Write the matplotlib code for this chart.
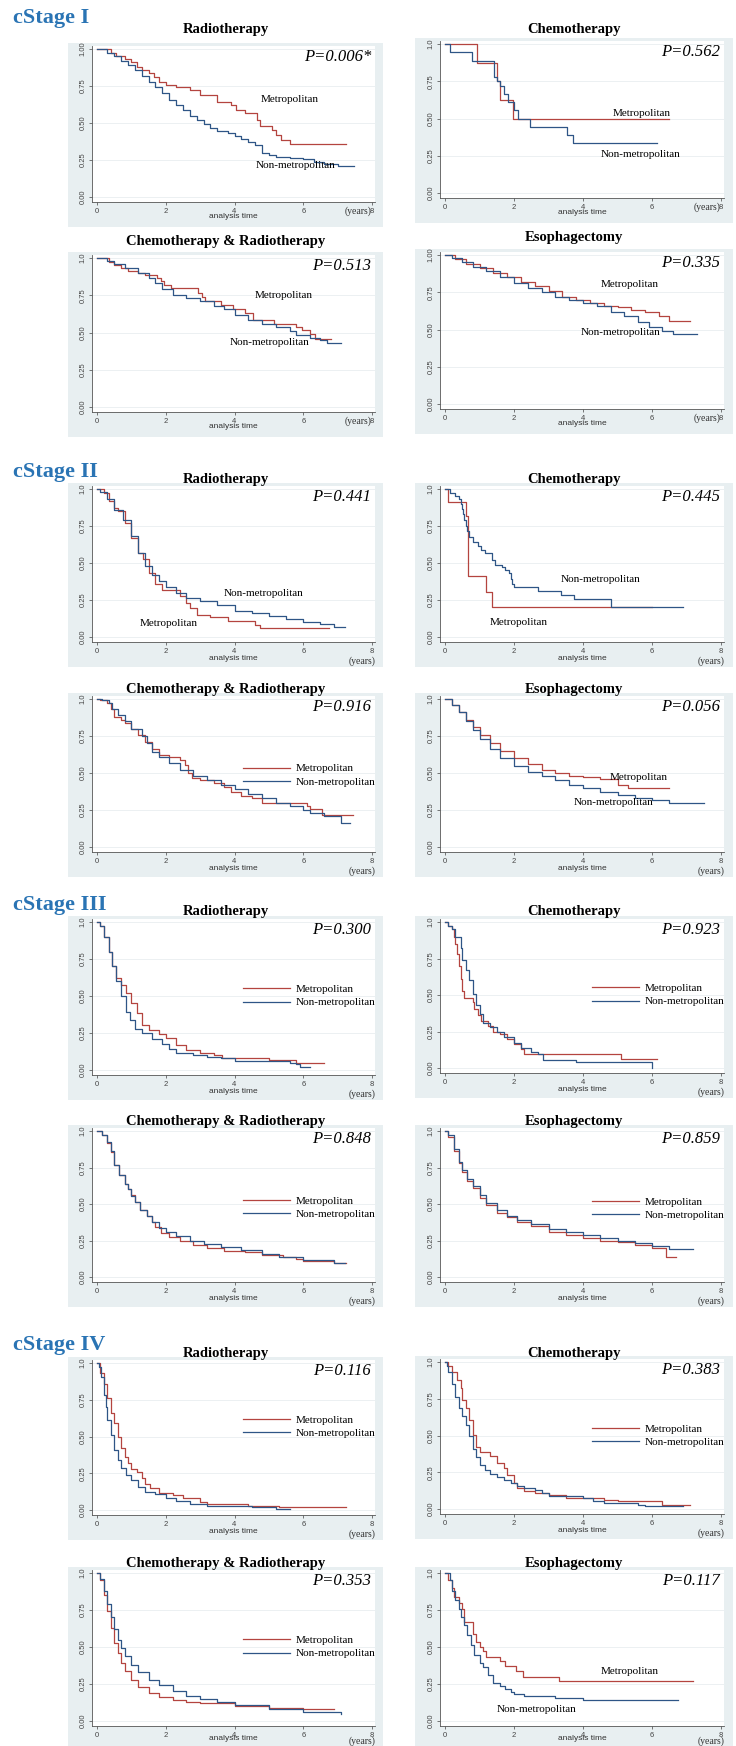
import matplotlib
matplotlib.use('Agg')
from matplotlib import pyplot as plt
from matplotlib.patches import Rectangle

# ---------------- data ----------------
stages = ['cStage I', 'cStage II', 'cStage III', 'cStage IV']
treatments = ['Radiotherapy', 'Chemotherapy', 'Chemotherapy & Radiotherapy', 'Esophagectomy']
p_values = ['P=0.006*', 'P=0.562', 'P=0.513', 'P=0.335',
            'P=0.441', 'P=0.445', 'P=0.916', 'P=0.056',
            'P=0.300', 'P=0.923', 'P=0.848', 'P=0.859',
            'P=0.116', 'P=0.383', 'P=0.353', 'P=0.117']
groups = ['Metropolitan', 'Non-metropolitan']
x_ticks = [0, 2, 4, 6, 8]
y_ticks = [0, 0.25, 0.5, 0.75, 1.0]

# cStage I
s1_rt_met_t = [0, 0.4, 0.55, 0.8, 1.0, 1.15, 1.3, 1.5, 1.65, 1.8, 2.0, 2.3, 2.7, 3.0, 3.5, 3.9, 4.05, 4.3, 4.65, 4.75, 5.1, 5.2, 5.35, 5.6, 7.25]
s1_rt_met_s = [1.0, 0.97, 0.95, 0.93, 0.91, 0.88, 0.86, 0.84, 0.81, 0.78, 0.76, 0.74, 0.72, 0.69, 0.645, 0.62, 0.59, 0.566, 0.52, 0.48, 0.45, 0.42, 0.385, 0.355, 0.355]
s1_rt_non_t = [0, 0.3, 0.5, 0.7, 0.9, 1.1, 1.3, 1.5, 1.7, 1.9, 2.1, 2.3, 2.5, 2.7, 2.9, 3.1, 3.3, 3.5, 3.8, 4.0, 4.2, 4.4, 4.6, 4.8, 5.0, 5.2, 5.6, 6.0, 6.3, 6.6, 7.0, 7.47]
s1_rt_non_s = [1.0, 0.97, 0.95, 0.92, 0.89, 0.86, 0.82, 0.78, 0.74, 0.70, 0.655, 0.62, 0.585, 0.55, 0.52, 0.49, 0.465, 0.445, 0.43, 0.415, 0.395, 0.37, 0.35, 0.30, 0.285, 0.27, 0.265, 0.255, 0.235, 0.22, 0.21, 0.21]

s1_ch_met_t = [0, 0.92, 1.5, 1.6, 1.98, 6.48]
s1_ch_met_s = [1.0, 0.875, 0.75, 0.625, 0.5, 0.5]
s1_ch_non_t = [0, 0.15, 0.77, 1.42, 1.5, 1.6, 1.72, 1.82, 2.0, 2.12, 2.45, 3.55, 3.7, 6.14]
s1_ch_non_s = [1.0, 0.944, 0.889, 0.778, 0.75, 0.72, 0.667, 0.611, 0.556, 0.5, 0.444, 0.389, 0.333, 0.333]

s1_cr_met_t = [0, 0.35, 0.5, 0.7, 0.9, 1.2, 1.4, 1.75, 1.85, 1.95, 2.15, 2.95, 3.05, 3.15, 3.6, 3.95, 4.3, 4.55, 5.15, 5.8, 5.95, 6.2, 6.35, 6.8]
s1_cr_met_s = [1.0, 0.97, 0.955, 0.93, 0.91, 0.90, 0.885, 0.865, 0.845, 0.82, 0.80, 0.765, 0.735, 0.71, 0.685, 0.655, 0.63, 0.585, 0.555, 0.535, 0.515, 0.49, 0.455, 0.455]
s1_cr_non_t = [0, 0.3, 0.5, 0.8, 1.2, 1.5, 1.7, 1.9, 2.2, 2.6, 3.0, 3.4, 3.7, 4.0, 4.4, 4.8, 5.2, 5.6, 5.8, 6.2, 6.5, 6.7, 7.1]
s1_cr_non_s = [1.0, 0.98, 0.96, 0.93, 0.90, 0.865, 0.83, 0.79, 0.755, 0.73, 0.71, 0.68, 0.655, 0.62, 0.585, 0.56, 0.54, 0.51, 0.485, 0.46, 0.45, 0.43, 0.43]

s1_es_met_t = [0, 0.3, 0.6, 1.0, 1.4, 1.8, 2.2, 2.6, 3.0, 3.4, 3.8, 4.2, 4.6, 5.0, 5.4, 5.8, 6.2, 6.5, 7.1]
s1_es_met_s = [1.0, 0.97, 0.94, 0.91, 0.88, 0.85, 0.82, 0.79, 0.76, 0.72, 0.70, 0.68, 0.66, 0.65, 0.63, 0.62, 0.59, 0.56, 0.56]
s1_es_non_t = [0, 0.2, 0.5, 0.8, 1.2, 1.6, 2.0, 2.4, 2.8, 3.2, 3.6, 4.0, 4.4, 4.8, 5.2, 5.6, 5.9, 6.3, 6.6, 7.3]
s1_es_non_s = [1.0, 0.98, 0.95, 0.92, 0.89, 0.85, 0.81, 0.78, 0.75, 0.72, 0.70, 0.68, 0.66, 0.62, 0.59, 0.55, 0.52, 0.49, 0.47, 0.47]

# cStage II
s2_rt_met_t = [0, 0.2, 0.35, 0.5, 0.6, 0.8, 1.0, 1.2, 1.35, 1.5, 1.7, 1.9, 2.4, 2.6, 2.7, 2.9, 3.3, 3.8, 4.6, 4.75, 6.75]
s2_rt_met_s = [1.0, 0.97, 0.92, 0.87, 0.85, 0.77, 0.67, 0.57, 0.53, 0.43, 0.355, 0.32, 0.275, 0.23, 0.195, 0.15, 0.135, 0.105, 0.08, 0.06, 0.06]
s2_rt_non_t = [0, 0.1, 0.3, 0.5, 0.75, 1.0, 1.2, 1.4, 1.6, 1.8, 2.0, 2.3, 2.6, 3.0, 3.5, 4.0, 4.5, 5.0, 5.5, 6.0, 6.5, 6.9, 7.2]
s2_rt_non_s = [1.0, 0.98, 0.93, 0.86, 0.79, 0.68, 0.57, 0.48, 0.42, 0.375, 0.34, 0.30, 0.265, 0.24, 0.215, 0.175, 0.16, 0.14, 0.12, 0.10, 0.085, 0.07, 0.07]

s2_ch_met_t = [0, 0.1, 0.6, 0.68, 1.2, 1.35, 6.0]
s2_ch_met_s = [1.0, 0.91, 0.82, 0.41, 0.305, 0.205, 0.205]
s2_ch_non_t = [0, 0.15, 0.3, 0.4, 0.45, 0.5, 0.53, 0.56, 0.6, 0.65, 0.7, 0.8, 0.95, 1.05, 1.15, 1.35, 1.45, 1.65, 1.75, 1.85, 1.9, 1.95, 2.0, 2.7, 3.35, 3.75, 4.8, 6.9]
s2_ch_non_s = [1.0, 0.97, 0.95, 0.93, 0.90, 0.865, 0.83, 0.79, 0.75, 0.715, 0.675, 0.64, 0.615, 0.59, 0.57, 0.52, 0.485, 0.47, 0.45, 0.43, 0.39, 0.36, 0.335, 0.31, 0.285, 0.26, 0.205, 0.205]

s2_cr_met_t = [0, 0.1, 0.3, 0.4, 0.5, 0.7, 0.8, 1.0, 1.2, 1.4, 1.6, 1.8, 2.1, 2.4, 2.55, 2.65, 2.75, 3.0, 3.4, 3.7, 3.9, 4.2, 4.5, 4.8, 6.1, 6.2, 6.55, 7.45]
s2_cr_met_s = [1.0, 0.99, 0.97, 0.93, 0.88, 0.86, 0.84, 0.80, 0.76, 0.71, 0.66, 0.62, 0.61, 0.59, 0.555, 0.50, 0.465, 0.45, 0.43, 0.405, 0.37, 0.345, 0.33, 0.30, 0.275, 0.255, 0.215, 0.215]
s2_cr_non_t = [0, 0.15, 0.35, 0.45, 0.6, 0.8, 1.0, 1.3, 1.45, 1.6, 1.8, 2.1, 2.4, 2.8, 3.2, 3.6, 4.0, 4.4, 4.8, 5.2, 5.6, 6.0, 6.2, 6.6, 7.1, 7.35]
s2_cr_non_s = [1.0, 0.99, 0.97, 0.93, 0.89, 0.85, 0.80, 0.75, 0.70, 0.645, 0.61, 0.57, 0.52, 0.48, 0.45, 0.42, 0.39, 0.36, 0.33, 0.30, 0.275, 0.25, 0.23, 0.21, 0.16, 0.16]

s2_es_met_t = [0, 0.2, 0.4, 0.6, 0.8, 1.0, 1.3, 1.6, 2.0, 2.4, 2.8, 3.2, 3.6, 4.0, 4.5, 5.0, 5.3, 6.5]
s2_es_met_s = [1.0, 0.96, 0.91, 0.86, 0.81, 0.76, 0.70, 0.65, 0.60, 0.56, 0.52, 0.50, 0.48, 0.47, 0.46, 0.42, 0.40, 0.40]
s2_es_non_t = [0, 0.2, 0.4, 0.6, 0.8, 1.0, 1.3, 1.6, 2.0, 2.4, 2.8, 3.2, 3.6, 4.0, 4.5, 5.0, 5.5, 6.0, 6.5, 7.5]
s2_es_non_s = [1.0, 0.96, 0.91, 0.85, 0.79, 0.73, 0.66, 0.60, 0.55, 0.51, 0.48, 0.45, 0.42, 0.40, 0.37, 0.35, 0.33, 0.32, 0.30, 0.30]

# cStage III
s3_rt_met_t = [0, 0.1, 0.2, 0.35, 0.45, 0.55, 0.7, 0.85, 1.0, 1.15, 1.3, 1.5, 1.8, 2.0, 2.3, 2.6, 3.0, 3.4, 3.65, 5.0, 5.8, 6.6]
s3_rt_met_s = [1.0, 0.97, 0.90, 0.80, 0.70, 0.62, 0.575, 0.52, 0.45, 0.385, 0.305, 0.27, 0.24, 0.215, 0.17, 0.135, 0.115, 0.10, 0.08, 0.065, 0.045, 0.045]
s3_rt_non_t = [0, 0.1, 0.2, 0.35, 0.45, 0.55, 0.7, 0.85, 0.95, 1.1, 1.3, 1.6, 1.9, 2.1, 2.3, 2.8, 3.2, 3.6, 4.0, 5.6, 5.8, 5.9, 6.2]
s3_rt_non_s = [1.0, 0.97, 0.90, 0.80, 0.70, 0.60, 0.50, 0.395, 0.34, 0.28, 0.25, 0.21, 0.175, 0.14, 0.115, 0.10, 0.09, 0.078, 0.063, 0.05, 0.04, 0.023, 0.023]

s3_ch_met_t = [0, 0.1, 0.2, 0.25, 0.3, 0.35, 0.4, 0.45, 0.5, 0.55, 0.8, 0.85, 0.95, 1.05, 1.25, 1.4, 1.6, 1.8, 2.0, 2.2, 2.3, 5.1, 6.15]
s3_ch_met_s = [1.0, 0.97, 0.95, 0.90, 0.85, 0.78, 0.70, 0.61, 0.53, 0.48, 0.45, 0.405, 0.365, 0.325, 0.285, 0.245, 0.23, 0.20, 0.165, 0.13, 0.095, 0.065, 0.065]
s3_ch_non_t = [0, 0.1, 0.2, 0.3, 0.45, 0.5, 0.6, 0.7, 0.8, 0.9, 1.0, 1.1, 1.3, 1.5, 1.7, 2.0, 2.2, 2.5, 2.7, 2.85, 3.8, 6.0]
s3_ch_non_s = [1.0, 0.97, 0.95, 0.90, 0.82, 0.74, 0.67, 0.60, 0.505, 0.43, 0.37, 0.31, 0.28, 0.245, 0.21, 0.17, 0.135, 0.11, 0.095, 0.057, 0.041, 0.0]

s3_cr_met_t = [0, 0.15, 0.3, 0.4, 0.5, 0.65, 0.8, 0.9, 1.0, 1.1, 1.25, 1.45, 1.6, 1.7, 1.85, 2.1, 2.4, 2.8, 3.2, 3.7, 4.3, 4.8, 5.4, 5.8, 6.0, 6.9, 7.25]
s3_cr_met_s = [1.0, 0.97, 0.92, 0.855, 0.77, 0.70, 0.64, 0.60, 0.56, 0.515, 0.46, 0.415, 0.38, 0.34, 0.30, 0.275, 0.245, 0.22, 0.20, 0.18, 0.168, 0.152, 0.134, 0.12, 0.107, 0.095, 0.095]
s3_cr_non_t = [0, 0.15, 0.3, 0.4, 0.5, 0.65, 0.8, 0.9, 1.0, 1.1, 1.25, 1.45, 1.6, 1.8, 2.0, 2.3, 2.7, 3.1, 3.6, 4.2, 4.8, 5.3, 6.0, 6.9, 7.2]
s3_cr_non_s = [1.0, 0.97, 0.925, 0.86, 0.765, 0.70, 0.64, 0.60, 0.555, 0.515, 0.46, 0.415, 0.38, 0.335, 0.31, 0.28, 0.25, 0.225, 0.205, 0.185, 0.16, 0.14, 0.118, 0.095, 0.095]

s3_es_met_t = [0, 0.1, 0.25, 0.4, 0.5, 0.65, 0.8, 1.0, 1.2, 1.5, 1.8, 2.1, 2.5, 3.0, 3.5, 4.0, 4.5, 5.0, 5.5, 6.0, 6.4, 6.7]
s3_es_met_s = [1.0, 0.96, 0.86, 0.78, 0.72, 0.66, 0.61, 0.54, 0.49, 0.44, 0.41, 0.38, 0.35, 0.31, 0.29, 0.27, 0.25, 0.24, 0.22, 0.20, 0.14, 0.14]
s3_es_non_t = [0, 0.1, 0.25, 0.4, 0.5, 0.65, 0.8, 1.0, 1.2, 1.5, 1.8, 2.1, 2.5, 3.0, 3.5, 4.0, 4.5, 5.0, 5.5, 6.0, 6.5, 7.2]
s3_es_non_s = [1.0, 0.97, 0.88, 0.79, 0.73, 0.67, 0.62, 0.56, 0.51, 0.46, 0.42, 0.39, 0.36, 0.33, 0.31, 0.29, 0.27, 0.25, 0.23, 0.21, 0.19, 0.19]

# cStage IV
s4_rt_met_t = [0, 0.1, 0.2, 0.3, 0.4, 0.5, 0.6, 0.7, 0.8, 0.9, 1.0, 1.15, 1.3, 1.4, 1.55, 1.8, 2.2, 2.5, 3.0, 3.2, 4.4, 5.3, 7.25]
s4_rt_met_s = [1.0, 0.93, 0.855, 0.76, 0.66, 0.59, 0.50, 0.42, 0.36, 0.32, 0.28, 0.26, 0.215, 0.18, 0.147, 0.118, 0.10, 0.084, 0.057, 0.04, 0.03, 0.02, 0.02]
s4_rt_non_t = [0, 0.05, 0.12, 0.2, 0.25, 0.3, 0.4, 0.5, 0.6, 0.7, 0.85, 1.0, 1.2, 1.4, 1.7, 2.0, 2.3, 2.7, 3.2, 4.5, 5.2, 5.6]
s4_rt_non_s = [1.0, 0.97, 0.905, 0.78, 0.70, 0.61, 0.51, 0.41, 0.34, 0.283, 0.237, 0.204, 0.158, 0.125, 0.11, 0.08, 0.06, 0.04, 0.03, 0.023, 0.01, 0.01]

s4_ch_met_t = [0, 0.1, 0.2, 0.35, 0.45, 0.5, 0.6, 0.7, 0.8, 0.9, 1.0, 1.3, 1.5, 1.7, 1.8, 2.0, 2.1, 2.3, 2.6, 3.0, 3.5, 4.6, 5.0, 6.3, 7.1]
s4_ch_met_s = [1.0, 0.97, 0.93, 0.875, 0.82, 0.74, 0.685, 0.605, 0.505, 0.425, 0.39, 0.36, 0.31, 0.28, 0.23, 0.175, 0.14, 0.12, 0.11, 0.095, 0.075, 0.063, 0.052, 0.03, 0.03]
s4_ch_non_t = [0, 0.05, 0.1, 0.2, 0.3, 0.4, 0.5, 0.6, 0.7, 0.8, 0.9, 1.0, 1.15, 1.3, 1.5, 1.7, 1.9, 2.1, 2.3, 2.6, 2.8, 3.0, 4.0, 4.3, 4.6, 5.6, 5.8, 6.9]
s4_ch_non_s = [1.0, 0.97, 0.93, 0.85, 0.76, 0.69, 0.63, 0.57, 0.50, 0.41, 0.355, 0.30, 0.265, 0.24, 0.22, 0.20, 0.18, 0.158, 0.142, 0.13, 0.11, 0.09, 0.075, 0.052, 0.04, 0.03, 0.018, 0.018]

s4_cr_met_t = [0, 0.1, 0.2, 0.3, 0.4, 0.5, 0.6, 0.7, 0.8, 1.0, 1.2, 1.5, 1.8, 2.2, 2.6, 3.0, 4.0, 5.0, 6.0, 6.9]
s4_cr_met_s = [1.0, 0.95, 0.85, 0.74, 0.63, 0.53, 0.46, 0.39, 0.34, 0.28, 0.23, 0.19, 0.16, 0.14, 0.13, 0.12, 0.10, 0.09, 0.08, 0.08]
s4_cr_non_t = [0, 0.1, 0.2, 0.3, 0.4, 0.5, 0.6, 0.7, 0.8, 1.0, 1.2, 1.5, 1.8, 2.2, 2.6, 3.0, 3.5, 4.0, 5.0, 6.0, 7.1]
s4_cr_non_s = [1.0, 0.96, 0.88, 0.79, 0.70, 0.62, 0.55, 0.49, 0.44, 0.38, 0.33, 0.28, 0.24, 0.20, 0.17, 0.15, 0.13, 0.11, 0.08, 0.06, 0.05]

s4_es_met_t = [0, 0.1, 0.2, 0.25, 0.4, 0.5, 0.55, 0.82, 0.9, 1.0, 1.1, 1.2, 1.6, 1.75, 2.05, 2.25, 3.3, 7.2]
s4_es_met_s = [1.0, 0.95, 0.90, 0.84, 0.80, 0.76, 0.67, 0.59, 0.535, 0.50, 0.47, 0.435, 0.405, 0.37, 0.335, 0.30, 0.27, 0.27]
s4_es_non_t = [0, 0.15, 0.2, 0.3, 0.4, 0.45, 0.55, 0.65, 0.75, 0.85, 1.0, 1.1, 1.25, 1.4, 1.6, 1.75, 1.9, 2.0, 2.3, 3.2, 4.0, 6.75]
s4_es_non_s = [1.0, 0.95, 0.88, 0.82, 0.76, 0.705, 0.65, 0.58, 0.515, 0.445, 0.39, 0.365, 0.31, 0.255, 0.235, 0.215, 0.195, 0.18, 0.167, 0.156, 0.14, 0.14]

curves = [
    (s1_rt_met_t, s1_rt_met_s, s1_rt_non_t, s1_rt_non_s),
    (s1_ch_met_t, s1_ch_met_s, s1_ch_non_t, s1_ch_non_s),
    (s1_cr_met_t, s1_cr_met_s, s1_cr_non_t, s1_cr_non_s),
    (s1_es_met_t, s1_es_met_s, s1_es_non_t, s1_es_non_s),
    (s2_rt_met_t, s2_rt_met_s, s2_rt_non_t, s2_rt_non_s),
    (s2_ch_met_t, s2_ch_met_s, s2_ch_non_t, s2_ch_non_s),
    (s2_cr_met_t, s2_cr_met_s, s2_cr_non_t, s2_cr_non_s),
    (s2_es_met_t, s2_es_met_s, s2_es_non_t, s2_es_non_s),
    (s3_rt_met_t, s3_rt_met_s, s3_rt_non_t, s3_rt_non_s),
    (s3_ch_met_t, s3_ch_met_s, s3_ch_non_t, s3_ch_non_s),
    (s3_cr_met_t, s3_cr_met_s, s3_cr_non_t, s3_cr_non_s),
    (s3_es_met_t, s3_es_met_s, s3_es_non_t, s3_es_non_s),
    (s4_rt_met_t, s4_rt_met_s, s4_rt_non_t, s4_rt_non_s),
    (s4_ch_met_t, s4_ch_met_s, s4_ch_non_t, s4_ch_non_s),
    (s4_cr_met_t, s4_cr_met_s, s4_cr_non_t, s4_cr_non_s),
    (s4_es_met_t, s4_es_met_s, s4_es_non_t, s4_es_non_s),
]

# ---------------- layout (pixels of the 736x1746 picture) ----------------
W, H = 736, 1746
RED = '#b4443f'
BLUE = '#2e5586'
FRAME = '#e8eff1'
SERIF = ['Liberation Serif', 'DejaVu Serif']
SANS = ['Liberation Sans', 'DejaVu Sans']

col_x = [(97, 372), (445, 721)]          # pixel of x=0 and x=8
col_frame = [(68, 383), (415, 733)]
rows = {0: [(49, 197), (258, 407), (489, 637), (699, 847), (922, 1070), (1131, 1277), (1363, 1510), (1573, 1721)],
        1: [(44, 193), (255, 404), (489, 637), (699, 847), (922, 1068), (1131, 1277), (1362, 1509), (1573, 1721)]}
title_y = {0: [29, 242, 479, 690, 912, 1122, 1353, 1563],
           1: [29, 237, 479, 690, 912, 1122, 1353, 1563]}
stage_y = [18, 472, 905, 1345]

# direct labels (data coords) or legend (vertical centre in data units)
direct = {0: ((5.6, 0.66), (5.78, 0.215)), 1: ((5.71, 0.535), (5.66, 0.26)),
          2: ((5.42, 0.748), (5.01, 0.431)), 3: ((5.35, 0.80), (5.1, 0.48)),
          4: ((2.08, 0.09), (4.84, 0.297)), 5: ((2.13, 0.10), (4.5, 0.386)),
          7: ((5.6, 0.47), (4.9, 0.30)), 15: ((5.34, 0.333), (2.65, 0.077))}
legend_y = {6: 0.486, 8: 0.50, 9: 0.50, 10: 0.476, 11: 0.47, 12: 0.57, 13: 0.50, 14: 0.50}

XMIN, XMAX, YMIN, YMAX = -0.15, 8.1, -0.035, 1.02

fig = plt.figure(figsize=(W / 100, H / 100), dpi=100)

for i in range(16):
    stage, k = divmod(i, 4)
    row = stage * 2 + k // 2
    col = k % 2
    last = row == 7
    x0, x8 = col_x[col]
    y1, y0 = rows[col][row]
    sx = (x8 - x0) / 8.0
    sy = float(y0 - y1)
    left = x0 + XMIN * sx
    right = x0 + XMAX * sx
    top = y1 - (YMAX - 1) * sy
    bottom = y0 - YMIN * sy

    fx0, fx1 = col_frame[col]
    ftop, fbot = y1 - 6, min(y0 + 30, H)
    fig.add_artist(Rectangle((fx0 / W, 1 - fbot / H), (fx1 - fx0) / W, (fbot - ftop) / H,
                             transform=fig.transFigure, facecolor=FRAME, edgecolor='none', zorder=-5))

    ax = fig.add_axes([left / W, 1 - bottom / H, (right - left) / W, (bottom - top) / H])
    ax.set_facecolor('white')
    ax.set_xlim(XMIN, XMAX)
    ax.set_ylim(YMIN, YMAX)
    for sp in ['top', 'right']:
        ax.spines[sp].set_visible(False)
    for sp in ['left', 'bottom']:
        ax.spines[sp].set_color('#555555')
        ax.spines[sp].set_linewidth(0.6)
    ax.set_xticks(x_ticks)
    ax.set_xticklabels([str(v) for v in x_ticks], family=SANS, fontsize=5.5)
    ax.set_yticks(y_ticks)
    ylabs = ['0.00', '0.25', '0.50', '0.75', '1.00' if i in (0, 3) else '1.0']
    ax.set_yticklabels(ylabs, rotation=90, va='center', family=SANS, fontsize=5.5)
    ax.tick_params(length=2.5, width=0.5, colors='#444444', pad=1.5)
    ax.yaxis.grid(True, color='#e9eef0', lw=0.6)
    ax.set_axisbelow(True)
    if last:
        ax.set_xlabel('analysis time', family=SANS, fontsize=6, labelpad=-2.5, color='#333333')
        ax.annotate('(years)', xy=(7.7, 0), xycoords=('data', 'axes fraction'),
                    xytext=(0, -10.5), textcoords='offset points', ha='center', va='center',
                    family=SERIF, fontsize=7, color='#333333')
    elif stage == 0:
        ax.set_xlabel('analysis time', family=SANS, fontsize=6, labelpad=-1, color='#333333')
        ax.annotate('(years)', xy=(7.6, 0), xycoords=('data', 'axes fraction'),
                    xytext=(0, -6.5), textcoords='offset points', ha='center', va='center',
                    family=SERIF, fontsize=7, color='#333333')
    else:
        ax.set_xlabel('analysis time', family=SANS, fontsize=6, labelpad=0, color='#333333')
        ax.annotate('(years)', xy=(7.7, 0), xycoords=('data', 'axes fraction'),
                    xytext=(0, -14), textcoords='offset points', ha='center', va='center',
                    family=SERIF, fontsize=7, color='#333333')

    mt, ms, nt, ns = curves[i]
    l1, = ax.step(mt, ms, where='post', color=RED, lw=0.9, label=groups[0])
    l2, = ax.step(nt, ns, where='post', color=BLUE, lw=0.9, label=groups[1])

    ax.text(0.985, (0.945 - YMIN) / (YMAX - YMIN), p_values[i], transform=ax.transAxes,
            ha='right', va='center', family=SERIF, style='italic', fontsize=12)

    if i in direct:
        (mx, my), (nx, ny) = direct[i]
        ax.text(mx, my, groups[0], ha='center', va='center', family=SERIF, fontsize=8)
        ax.text(nx, ny, groups[1], ha='center', va='center', family=SERIF, fontsize=8)
    else:
        yf = (legend_y[i] - YMIN) / (YMAX - YMIN)
        ax.legend(handles=[l1, l2], loc='center right', bbox_to_anchor=(1.0, yf), frameon=False,
                  prop=dict(family=SERIF, size=8), handlelength=4.2, handletextpad=0.5,
                  labelspacing=0.3, borderpad=0, borderaxespad=0)

    fig.text((fx0 + fx1) / 2 / W, 1 - title_y[col][row] / H, treatments[k], ha='center', va='center',
             family=SERIF, fontweight='bold', fontsize=10.5)

for s, y in zip(stages, stage_y):
    fig.text(13 / W, 1 - y / H, s, ha='left', va='center', family=SERIF, fontweight='bold',
             fontsize=16, color='#2a74b4')

fig.savefig('out.png', dpi=100)
